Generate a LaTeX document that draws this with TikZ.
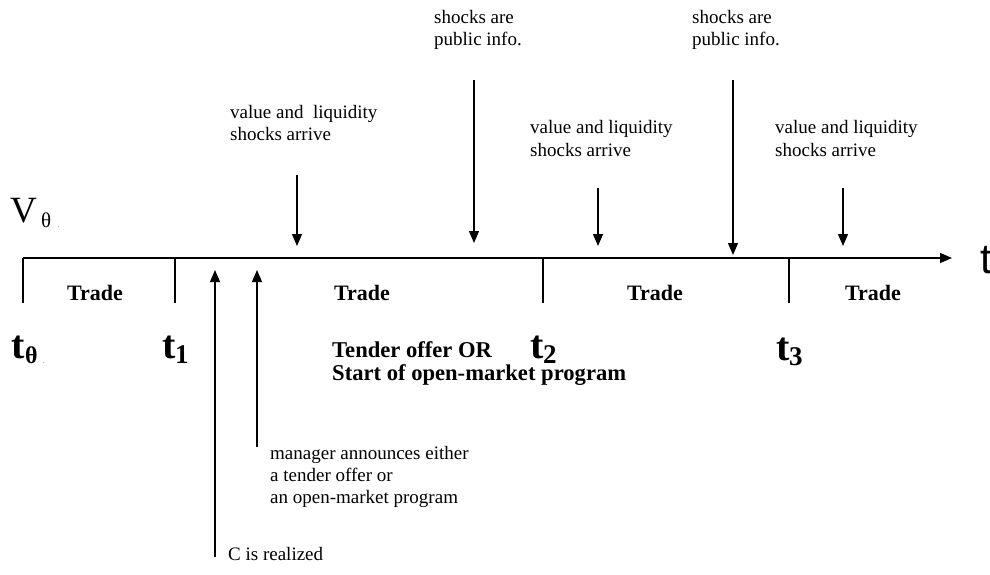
\documentclass[tikz,border=0pt]{standalone}
\usepackage{fontspec}
\setmainfont{Liberation Serif}
\newfontfamily\arialf{Liberation Sans}
\usetikzlibrary{arrows.meta}
\begin{document}
\begin{tikzpicture}[x=1pt,y=-1pt,
  line/.style={line width=1.2pt},
  arr/.style={line width=1.2pt,-{Triangle[width=10pt,length=12pt]}},
  txt/.style={anchor=base west,inner sep=0pt,font=\fontsize{19}{22}\selectfont,align=left},
  boldtxt/.style={anchor=base west,inner sep=0pt,font=\fontsize{22.6}{23}\selectfont\bfseries},
  trade/.style={anchor=base,inner sep=0pt,font=\fontsize{22}{24}\selectfont\bfseries},
  tlab/.style={anchor=base west,inner sep=0pt}]
\useasboundingbox (0,0) rectangle (990,575);
% timeline
\coordinate (L) at (23,258);
\coordinate (R) at (952,258);
\draw[arr] (L) -- (R);
\foreach \n/\x in {a/23,b/175,c/543,d/789}{
  \coordinate (\n top) at (\x,258);
  \coordinate (\n bot) at (\x,303);
  \draw[line] (\n top) -- (\n bot);
}
% axis label
\node[tlab] (tlabel) at (980,273) {\arialf\fontsize{42}{42}\selectfont t};
\node[tlab] (V) at (10,222) {\fontsize{37}{37}\selectfont V};
\node[tlab] (Vsub) at (41,227) {\fontsize{21}{21}\selectfont θ};
\node[tlab] (Vdot) at (58,227) {\fontsize{6}{6}\selectfont .};
% Trade labels
\node[trade] (tr1) at (95,300) {Trade};
\node[trade] (tr2) at (362,300) {Trade};
\node[trade] (tr3) at (655,300) {Trade};
\node[trade] (tr4) at (873,300) {Trade};
% t labels
\node[tlab] (t0) at (11,358) {\fontsize{40}{40}\selectfont\bfseries t};
\node[tlab] (t0s) at (25,363) {\fontsize{24}{24}\selectfont\bfseries θ};
\node[tlab] (t0d) at (43,363) {\fontsize{6}{6}\selectfont .};
\node[tlab] (t1) at (162,358) {\fontsize{40}{40}\selectfont\bfseries t};
\node[tlab] (t1s) at (175,363) {\fontsize{27}{27}\selectfont\bfseries 1};
\node[tlab] (t2) at (530,358) {\fontsize{40}{40}\selectfont\bfseries t};
\node[tlab] (t2s) at (543,363) {\fontsize{27}{27}\selectfont\bfseries 2};
\node[tlab] (t3) at (776,360) {\fontsize{40}{40}\selectfont\bfseries t};
\node[tlab] (t3s) at (789,365) {\fontsize{27}{27}\selectfont\bfseries 3};
% bold event text
\node[boldtxt] (tender1) at (332,357) {Tender offer OR};
\node[boldtxt] (tender2) at (332,380) {Start of open-market program};
% top texts (base = last line)
\node[txt] (v1) at (230,141) {value and\ \ liquidity\\shocks arrive};
\node[txt] (p1) at (434,46) {shocks are\\public info.};
\node[txt] (v2) at (530,156) {value and liquidity\\shocks arrive};
\node[txt] (p2) at (692,46) {shocks are\\public info.};
\node[txt] (v3) at (775,156) {value and liquidity\\shocks arrive};
% down arrows
\coordinate (d1s) at (297,175); \coordinate (d1e) at (297,246);
\coordinate (d2s) at (474,80);  \coordinate (d2e) at (474,243);
\coordinate (d3s) at (598,188); \coordinate (d3e) at (598,246);
\coordinate (d4s) at (733,80);  \coordinate (d4e) at (733,255);
\coordinate (d5s) at (843,188); \coordinate (d5e) at (843,246);
\foreach \i in {1,...,5}{\draw[arr] (d\i s) -- (d\i e);}
% up arrows
\coordinate (u1s) at (215,557); \coordinate (u1e) at (215,270);
\coordinate (u2s) at (257,447); \coordinate (u2e) at (257,270);
\draw[arr] (u1s) -- (u1e);
\draw[arr] (u2s) -- (u2e);
\node[txt] (mgr) at (270,503) {manager announces either\\a tender offer or\\an open-market program};
\node[txt] (crl) at (228,560) {C is realized};
\end{tikzpicture}
\end{document}
